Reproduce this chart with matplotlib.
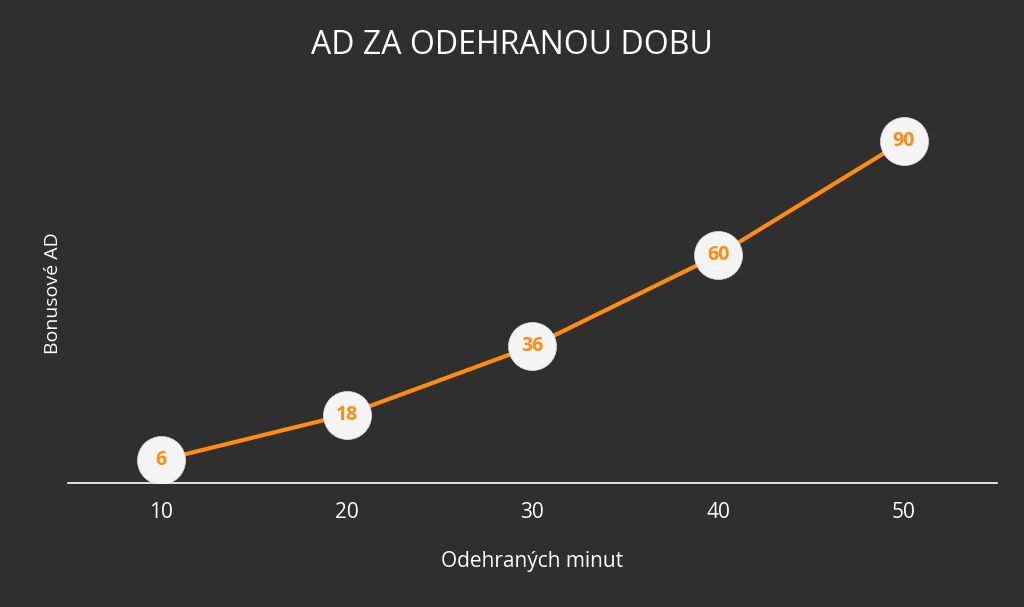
import matplotlib
matplotlib.use("Agg")
import matplotlib.pyplot as plt

minutes = ["10", "20", "30", "40", "50"]
bonus_ad = [6, 18, 36, 60, 90]

BG = "#2f2f2f"
ORANGE = "#ff8c0f"

plt.rcParams["font.family"] = ["Open Sans", "DejaVu Sans"]

fig = plt.figure(figsize=(10.24, 6.07), dpi=100, facecolor=BG)
ax = fig.add_axes([0.0664, 0.2043, 0.907, 0.626], facecolor=BG)

x = range(len(minutes))
ax.plot(x, bonus_ad, color=ORANGE, lw=3, zorder=2)
ax.scatter(x, bonus_ad, s=48 ** 2 * 0.52, color="#f4f4f4", edgecolor="#dddddd",
           lw=0.5, zorder=3)
for xi, v in zip(x, bonus_ad):
    ax.text(xi, v, str(v), ha="center", va="center", color=ORANGE,
            fontsize=14, fontweight="bold", zorder=4)

ax.set_xlim(-0.5, len(minutes) - 0.5)
ax.set_ylim(0, 100)
ax.set_xticks(list(x))
ax.set_xticklabels(minutes)
ax.set_yticks([])
ax.tick_params(axis="x", length=0, colors="white", labelsize=15, pad=14)
for side in ("top", "right", "left"):
    ax.spines[side].set_visible(False)
ax.spines["bottom"].set_color("white")
ax.spines["bottom"].set_linewidth(1.2)

ax.set_xlabel("Odehraných minut", color="white", fontsize=15, labelpad=20)
ax.set_ylabel("Bonusové AD", color="white", fontsize=14, labelpad=4)
fig.text(0.5, 0.925, "AD ZA ODEHRANOU DOBU", ha="center", va="center",
         color="white", fontsize=23)

fig.savefig("out.png", dpi=100, facecolor=BG)
